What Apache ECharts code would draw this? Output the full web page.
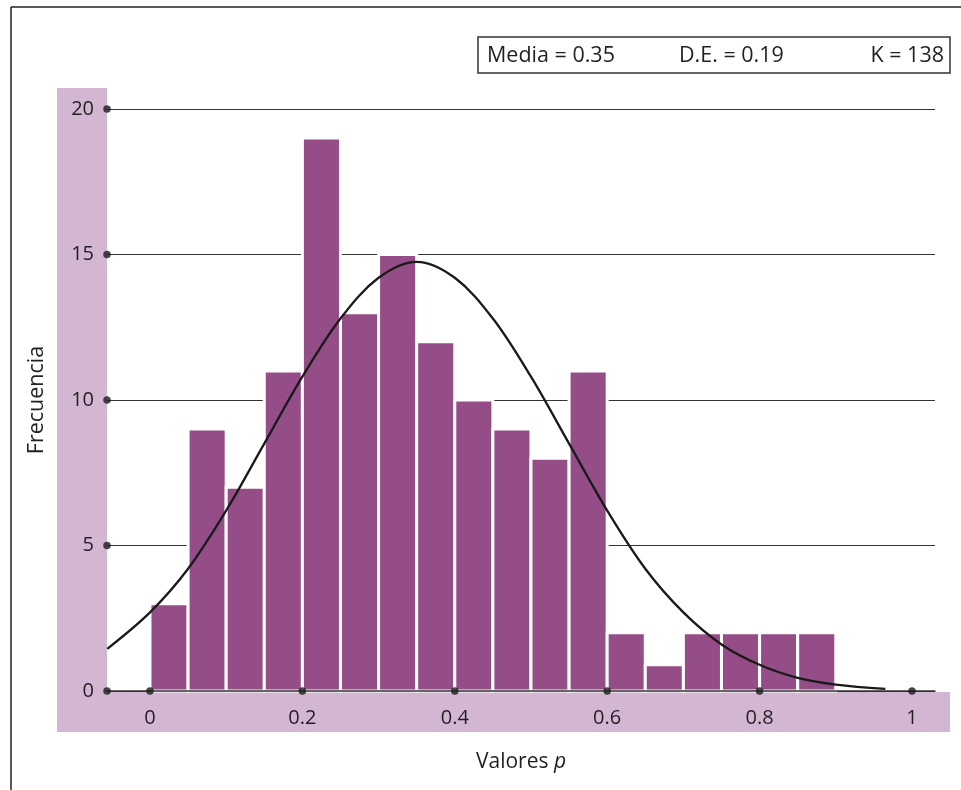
<!DOCTYPE html>
<html><head><meta charset="utf-8">
<script src="https://cdn.jsdelivr.net/npm/echarts@6/dist/echarts.min.js"></script>
<style>html,body{margin:0;padding:0;background:#fff}#c{width:961px;height:790px}</style>
</head><body><div id="c"></div>
<script>
// Histogram bins (left edge, right edge) and frequencies
var binStart = [0,0.05,0.1,0.15,0.2,0.25,0.3,0.35,0.4,0.45,0.5,0.55,0.6,0.65,0.7,0.75,0.8,0.85];
var binEnd   = [0.05,0.1,0.15,0.2,0.25,0.3,0.35,0.4,0.45,0.5,0.55,0.6,0.65,0.7,0.75,0.8,0.85,0.9];
var counts   = [3,9,7,11,19,13,15,12,10,9,8,11,2,0.9,2,2,2,2];
// Fitted normal curve
var curveX = [-0.056,0,0.05,0.1,0.15,0.2,0.25,0.3,0.35,0.4,0.45,0.5,0.55,0.6,0.65,0.7,0.75,0.8,0.85,0.9,0.965];
var curveY = [1.45,2.7,4.2,6.2,8.5,10.8,12.8,14.2,14.75,14.2,12.8,10.8,8.5,6.2,4.2,2.7,1.6,0.9,0.45,0.22,0.07];
// Tick labels
var xTicks = [0,0.2,0.4,0.6,0.8,1];
var yTicks = [0,5,10,15,20];
var statsText = ['Media = 0.35','D.E. = 0.19','K = 138'];

var X_MIN = -0.0564, X_MAX = 1.0302;
var FONT = '"Open Sans", "Noto Sans", sans-serif';
var chart = echarts.init(document.getElementById('c'));

var barData = binStart.map(function(s,i){return [s, binEnd[i], counts[i]];});
var curveData = curveX.map(function(x,i){return [x, curveY[i]];});
var dotData = xTicks.map(function(x){return [x,0];}).concat(yTicks.map(function(y){return [X_MIN,y];}));

chart.setOption({
  animation:false,
  grid:{left:107,right:26,top:109,bottom:99},
  xAxis:{type:'value',min:X_MIN,max:X_MAX,z:5,
    axisLine:{show:true,lineStyle:{color:'#333',width:1.5}},
    axisTick:{show:false},splitLine:{show:false},
    axisLabel:{customValues:xTicks,margin:17,color:'#231f20',fontSize:20,fontFamily:FONT,
      formatter:function(v){return String(v);}},
    name:'{a|Valores }{b|p}',nameLocation:'middle',nameGap:61,
    nameTextStyle:{rich:{a:{fontSize:21,fontFamily:FONT,color:'#231f20'},b:{fontSize:21,fontFamily:FONT,fontStyle:'italic',color:'#231f20'}}}
  },
  yAxis:{type:'value',min:0,max:20,interval:5,z:0,
    axisLine:{show:false},axisTick:{show:false},
    splitLine:{show:true,lineStyle:{color:'#333',width:1.2}},
    axisLabel:{margin:13,color:'#231f20',fontSize:20,fontFamily:FONT},
    name:'Frecuencia',nameLocation:'middle',nameGap:59,nameRotate:90,
    nameTextStyle:{fontSize:21.5,fontFamily:FONT,color:'#231f20'}
  },
  graphic:[
    {type:'rect',z:-10,shape:{x:57,y:88,width:50,height:644},style:{fill:'#d3b7d2'}},
    {type:'rect',z:-10,shape:{x:57,y:692,width:893,height:40},style:{fill:'#d3b7d2'}},
    {type:'line',z:20,shape:{x1:11,y1:7,x2:961,y2:7},style:{stroke:'#222',lineWidth:1.5}},
    {type:'line',z:20,shape:{x1:11,y1:7,x2:11,y2:790},style:{stroke:'#222',lineWidth:1.5}},
    {type:'rect',z:20,shape:{x:478,y:37,width:472,height:36},style:{fill:'#fff',stroke:'#333',lineWidth:1.5}},
    {type:'text',z:21,style:{x:487,y:56,text:statsText[0],fontSize:21.5,fontFamily:FONT,fill:'#231f20',verticalAlign:'middle',align:'left'}},
    {type:'text',z:21,style:{x:679,y:56,text:statsText[1],fontSize:21.5,fontFamily:FONT,fill:'#231f20',verticalAlign:'middle',align:'left'}},
    {type:'text',z:21,style:{x:944,y:56,text:statsText[2],fontSize:21.5,fontFamily:FONT,fill:'#231f20',verticalAlign:'middle',align:'right'}}
  ],
  series:[
    {type:'custom',z:2,data:barData,clip:false,
      renderItem:function(params,api){
        var p0=api.coord([api.value(0),api.value(2)]);
        var p1=api.coord([api.value(1),0]);
        return {type:'rect',shape:{x:p0[0],y:p0[1],width:p1[0]-p0[0],height:p1[1]-p0[1]},
          style:{fill:'#954d88',stroke:'#fff',lineWidth:3}};
      }},
    {type:'line',z:8,data:curveData,smooth:0.35,showSymbol:false,symbol:'none',
      lineStyle:{color:'#1a1a1a',width:2.3}},
    {type:'scatter',z:10,clip:false,data:dotData,symbol:'circle',symbolSize:7.5,
      itemStyle:{color:'#1a1a1a'}}
  ]
});
</script></body></html>
